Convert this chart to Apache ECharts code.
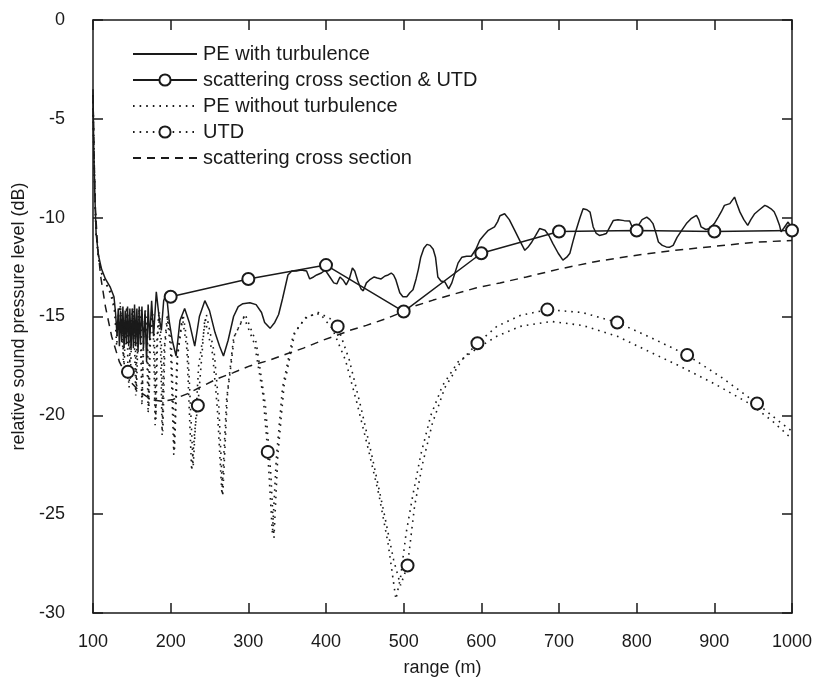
<!DOCTYPE html>
<html>
<head>
<meta charset="utf-8">
<script src="https://cdn.jsdelivr.net/npm/echarts@6/dist/echarts.min.js"></script>
<style>
  html, body { margin: 0; padding: 0; background: #fff; }
  #chart { width: 816px; height: 683px; }
</style>
</head>
<body>
<div id="chart"></div>
<script>
// series names (legend order)
const seriesNames = [
  "PE with turbulence",
  "scattering cross section & UTD",
  "PE without turbulence",
  "UTD",
  "scattering cross section"
];

// PE with turbulence: [range (m), level (dB)]
const peTurb = [
  [100,-3.5],[101,-6.5],[102.5,-9],[104,-10.8],[107,-11.9],[111,-12.6],[116,-13.1],[122,-13.5],[127,-14.0],
  [129,-14.8],[131,-16.0],[132.5,-14.6],[134,-16.5],[135.5,-14.7],[137,-16.3],[138.5,-14.5],[140,-16.6],
  [141.5,-14.7],[143,-16.4],[144.5,-14.5],[146,-16.5],[147.5,-14.6],[149,-16.7],[150.5,-14.6],[152,-16.6],
  [153.5,-14.4],[155,-16.5],[156.5,-14.6],[158,-16.8],[159.5,-14.5],[161,-16.4],[163,-14.5],[165,-16.6],
  [167,-14.7],[169,-17.3],[171,-14.4],[173,-16.2],[175.5,-14.2],[178,-16.0],[181.5,-13.75],[185,-15.0],
  [188,-15.7],[191,-14.2],[194.5,-13.8],[198,-15.2],[202,-16.2],[207,-17.0],[212,-15.2],[218,-14.6],
  [224,-15.3],[231,-16.5],[237,-15.0],[244,-14.2],[250,-14.7],[257,-15.8],[263,-16.5],[268,-17.0],
  [274,-16.2],[281,-15.0],[287,-14.5],[293,-14.35],[302,-14.3],[310,-14.4],[317,-14.8],[321,-15.3],
  [328,-15.6],[334,-15.3],[339,-14.9],[344,-14.1],[351,-12.9],[356,-12.7],[362,-12.7],[368,-12.65],
  [375,-12.7],[379,-13.1],[384,-13.0],[388,-12.9],[394,-12.8],[399,-12.65],[405,-13.0],[410,-13.3],
  [414,-13.35],[418,-13.0],[422,-13.15],[426,-13.4],[430,-13.1],[434,-12.55],[437,-12.7],[441,-13.2],
  [445,-13.6],[448,-13.7],[452,-13.3],[456,-13.15],[462,-13.0],[466,-13.05],[471,-13.1],[476,-12.95],
  [480,-12.9],[484,-12.8],[487,-12.9],[490,-13.15],[495,-13.8],[499,-14.0],[504,-14.0],[508,-13.8],
  [512,-13.65],[516,-13.1],[519,-12.6],[522,-12.0],[526,-11.55],[530,-11.35],[534,-11.4],[538,-11.6],
  [541,-12.0],[544,-13.0],[548,-13.2],[553,-13.25],[558,-13.6],[562,-13.3],[566,-12.8],[570,-12.3],
  [575,-12.0],[581,-11.95],[587,-11.95],[593,-11.6],[598,-11.14],[603,-10.9],[609,-10.64],[617,-10.47],
  [621,-10.2],[624,-9.9],[630,-9.8],[636,-10.1],[643,-10.64],[650,-11.2],[656,-11.65],[660,-11.5],
  [665,-11.23],[670,-10.9],[675,-10.55],[682,-10.64],[687,-10.9],[692,-11.3],[699,-11.8],[705,-12.15],
  [710,-12.0],[714,-11.8],[718,-11.2],[722,-10.64],[727,-10.0],[731,-9.55],[736,-9.6],[740,-9.72],
  [744,-10.47],[748,-10.8],[752,-10.9],[757,-10.85],[761,-10.8],[765,-10.5],[770,-10.14],[776,-10.1],
  [784,-10.15],[791,-10.17],[796,-10.64],[802,-10.4],[807,-10.1],[813,-9.97],[817,-10.1],[821,-10.3],
  [825,-10.8],[828,-11.23],[833,-11.4],[838,-11.48],[842,-11.5],[847,-11.4],[852,-11.0],[858,-10.64],
  [864,-10.3],[870,-10.05],[877,-9.88],[880,-10.1],[883,-10.47],[889,-10.6],[894,-10.55],[900,-10.3],
  [905,-9.97],[909,-9.7],[913,-9.38],[920,-9.29],[926,-8.96],[929,-9.3],[933,-9.72],[938,-10.1],
  [943,-10.39],[947,-10.1],[952,-9.8],[958,-9.6],[965,-9.38],[969,-9.45],[973,-9.55],[977,-9.7],
  [980,-9.97],[984,-10.4],[986,-10.72],[990,-10.5],[995,-10.22],[1000,-10.55]
];

// scattering cross section & UTD (markers at every point)
const scatUtd = [
  [200,-14.0],[300,-13.1],[400,-12.4],[500,-14.75],[600,-11.8],
  [700,-10.7],[800,-10.65],[900,-10.7],[1000,-10.65]
];

// PE without turbulence
const peNoTurb = [
  [100,-3.8],[101,-6.5],[102.5,-9],[104,-10.8],[107,-12],[111,-12.8],[116,-13.3],[121,-13.6],[125,-14.0],
  [128,-14.6],[131,-16.0],[133,-15.0],[135,-14.3],[137,-15.2],[140,-17.5],[142,-15.5],[144,-14.5],
  [146,-15.4],[148,-18.2],[150,-15.6],[152,-14.6],[154,-15.5],[156,-18.8],[158,-15.8],[160,-14.6],
  [162,-15.6],[163.5,-19.2],[165.5,-15.8],[167.5,-14.7],[170,-15.8],[172,-19.6],[174,-16.0],[176.5,-14.7],
  [179,-16.0],[181,-20.2],[183,-16.2],[185.5,-14.8],[188,-16.3],[190,-20.8],[192.5,-16.5],[196.5,-14.9],
  [201,-16.5],[205,-21.7],[209,-17],[216,-14.9],[222,-16.5],[229,-22.6],[236,-17.5],[246,-14.9],
  [256,-16.8],[262,-19.5],[267,-24.1],[273,-19.0],[282,-16.0],[296,-14.9],[310,-16.3],[322,-19.5],
  [329,-23],[333,-26.2],[338,-22],[346,-18.5],[360,-15.8],[375,-15.0],[392,-14.85],[408,-15.6],
  [425,-17.2],[440,-19.4],[455,-21.8],[468,-24.0],[480,-26.5],[490,-29.3],[496,-28.2],[503,-26.0],
  [512,-24.0],[522,-22.0],[535,-20.0],[550,-18.5],[570,-17.3],[595,-16.6],[620,-16.0],[650,-15.5],
  [690,-15.25],[730,-15.45],[775,-16.0],[820,-16.85],[855,-17.5],[900,-18.4],[945,-19.4],[975,-20.3],
  [1000,-21.2]
];

// UTD curve, circles drawn only at utdMarkX
const utdCurve = [
  [100,-3.8],[101,-6.5],[102.5,-9],[104,-10.8],[107,-12],[111,-12.8],[116,-13.3],[121,-13.7],[125,-14.2],
  [128,-14.8],[130.5,-16.5],[132.5,-15.0],[135,-14.4],[137,-15.4],[139,-17.2],[141,-15.4],[143,-14.6],
  [144.2,-15.6],[145,-17.8],[146.5,-18.6],[148.5,-15.6],[151,-14.6],[153,-15.6],[155,-19.0],[157,-15.8],
  [159,-14.7],[161,-15.8],[163,-19.5],[165,-16],[167,-14.8],[169,-16],[171,-19.9],[173,-16.2],
  [175.5,-14.8],[178,-16.2],[180,-20.5],[182,-16.4],[184.5,-14.9],[187,-16.5],[189,-21.0],[191.5,-16.7],
  [195.5,-15.0],[200,-16.7],[204,-22.0],[208,-17.2],[215,-15.0],[221,-16.7],[227,-22.8],[231,-20.8],
  [235,-19.5],[244,-15.1],[254,-16.9],[260,-19.6],[266,-24.0],[272,-19.2],[281,-16.1],[294,-15.0],
  [308,-16.4],[319,-19.0],[325,-21.85],[331,-26.0],[336,-22.2],[344,-18.6],[358,-15.9],[373,-15.1],
  [390,-14.8],[405,-15.1],[415,-15.5],[430,-17.2],[445,-19.6],[460,-22.2],[474,-24.8],[487,-27.3],
  [496,-28.6],[505,-27.6],[514,-24.6],[524,-22.5],[537,-20.4],[553,-18.6],[575,-17.2],[595,-16.35],
  [620,-15.5],[650,-14.95],[685,-14.65],[730,-14.8],[775,-15.3],[820,-16.1],[865,-16.95],[910,-18.1],
  [955,-19.4],[980,-20.2],[1000,-20.8]
];
const utdMarkX = [145, 235, 325, 415, 505, 595, 685, 775, 865, 955];

// scattering cross section
const scatCross = [
  [100,-3.8],[101.5,-7],[103,-9.5],[106,-11.5],[110,-13],[116,-14.5],[124,-16],[134,-17.3],[146,-18.2],
  [160,-18.8],[175,-19.2],[190,-19.3],[203,-19.2],[222,-18.9],[242,-18.5],[260,-18.15],[280,-17.85],
  [302,-17.5],[324,-17.25],[349,-16.9],[371,-16.6],[396,-16.2],[414,-15.95],[431,-15.7],[452,-15.45],
  [478,-15.1],[500,-14.75],[512,-14.5],[538,-14.17],[568,-13.83],[594,-13.55],[624,-13.3],[658,-13.0],
  [700,-12.6],[750,-12.2],[800,-11.9],[850,-11.65],[900,-11.45],[950,-11.25],[1000,-11.15]
];

const ink = "#1a1a1a";
const font = "Liberation Sans, Arial, Helvetica, sans-serif";
const withMarker = [false, true, false, true, false];

const chart = echarts.init(document.getElementById("chart"));

const axisCommon = {
  axisLine: { show: true, onZero: false, lineStyle: { color: ink, width: 1.5 } },
  axisTick: { show: true, inside: true, length: 10, lineStyle: { color: ink, width: 1.5 } },
  splitLine: { show: false }
};

const option = {
  backgroundColor: "#fff",
  animation: false,
  textStyle: { fontFamily: font },
  grid: { left: 93, right: 24, top: 20, bottom: 70 },
  legend: {
    orient: "vertical",
    left: 127,
    top: 39,
    itemWidth: 64,
    itemHeight: 14,
    itemGap: 6,
    textStyle: { fontSize: 20, color: ink, fontFamily: font, lineHeight: 20, padding: [0, 0, 0, 1] },
    data: seriesNames.map((n, i) => withMarker[i]
      ? { name: n }
      : { name: n, itemStyle: { opacity: 0 } })
  },
  xAxis: [
    Object.assign({
      type: "value", min: 100, max: 1000, interval: 100, position: "bottom",
      name: "range (m)", nameLocation: "middle", nameGap: 46,
      nameTextStyle: { fontSize: 18, color: ink, fontFamily: font },
      axisLabel: { fontSize: 18, color: ink, margin: 20, fontFamily: font, formatter: v => String(v) }
    }, axisCommon),
    Object.assign({
      type: "value", min: 100, max: 1000, interval: 100, position: "top",
      axisLabel: { show: false }
    }, axisCommon)
  ],
  yAxis: [
    Object.assign({
      type: "value", min: -30, max: 0, interval: 5, position: "left",
      name: "relative sound pressure level (dB)", nameLocation: "middle", nameGap: 64,
      nameTextStyle: { fontSize: 18, color: ink, fontFamily: font },
      axisLabel: { fontSize: 18, color: ink, margin: 28, fontFamily: font, formatter: v => String(v) }
    }, axisCommon),
    Object.assign({
      type: "value", min: -30, max: 0, interval: 5, position: "right",
      axisLabel: { show: false }
    }, axisCommon)
  ],
  series: [
    {
      name: seriesNames[0], type: "line", data: peTurb, symbol: "none", z: 3,
      lineStyle: { color: ink, width: 1.5 }, itemStyle: { color: ink }
    },
    {
      name: seriesNames[1], type: "line", data: scatUtd, symbol: "emptyCircle", symbolSize: 12,
      showAllSymbol: true, z: 5,
      lineStyle: { color: ink, width: 1.5 },
      itemStyle: { color: ink, borderColor: ink, borderWidth: 1.6 }
    },
    {
      name: seriesNames[2], type: "line", data: peNoTurb, symbol: "none", z: 2,
      lineStyle: { color: ink, width: 1.6, type: [1.6, 5] }, itemStyle: { color: ink }
    },
    {
      name: seriesNames[3], type: "line", symbol: "emptyCircle", symbolSize: 12,
      showAllSymbol: true, z: 4,
      data: utdCurve.map(p => utdMarkX.includes(p[0]) ? { value: p } : { value: p, symbol: "none" }),
      lineStyle: { color: ink, width: 1.6, type: [1.6, 5] },
      itemStyle: { color: ink, borderColor: ink, borderWidth: 1.6 }
    },
    {
      name: seriesNames[4], type: "line", data: scatCross, symbol: "none", z: 2,
      lineStyle: { color: ink, width: 1.5, type: [8, 6] }, itemStyle: { color: ink }
    }
  ]
};

chart.setOption(option);
</script>
</body>
</html>
